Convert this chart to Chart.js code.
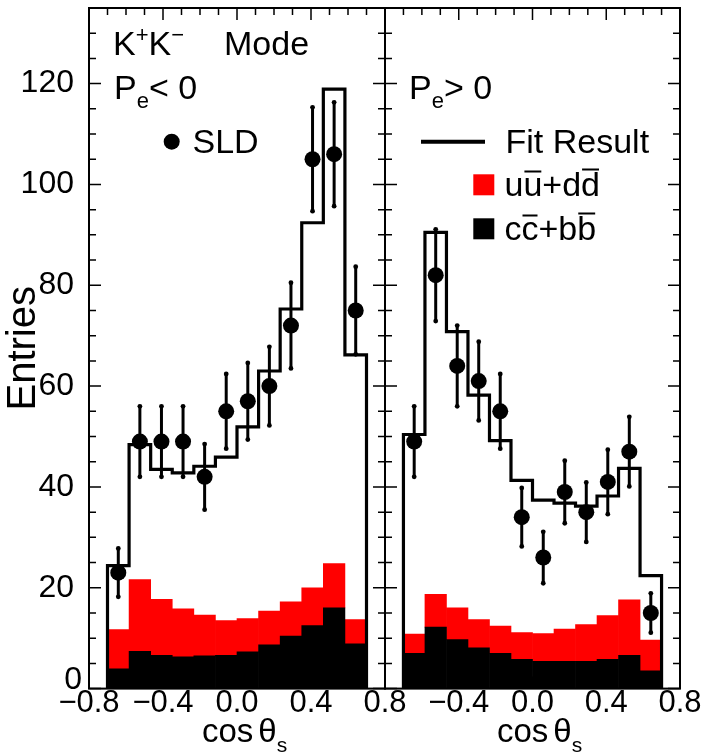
<!DOCTYPE html>
<html lang="en">
<head>
<meta charset="UTF-8">
<title>K+K- Mode</title>
<script src="https://cdn.jsdelivr.net/npm/chart.js"></script>
<style>
  body { margin: 0; background: #fff; }
  .wrap { position: relative; width: 703px; height: 754px; overflow: hidden; }
  canvas { position: absolute; top: 0; }
  #left { left: 0; }
  #right { left: 355px; }
</style>
</head>
<body>
<div class="wrap">
  <canvas id="left" width="430" height="754" style="width:430px;height:754px"></canvas>
  <canvas id="right" width="348" height="754" style="width:348px;height:754px"></canvas>
</div>
<script>
// bins in cos(theta_s), 12 bins from -0.7 to 0.7
const binEdges = [-0.7, -0.58333, -0.46667, -0.35, -0.23333, -0.11667, 0, 0.11667, 0.23333, 0.35, 0.46667, 0.58333, 0.7];
const xTicks = [-0.8, -0.4, 0, 0.4, 0.8];
const yTicks = [0, 20, 40, 60, 80, 100, 120];

// P_e < 0
const sldNeg    = [23, 49, 49, 49, 42, 55, 57, 60, 72, 105, 106, 75];
const sldNegErr = [4.8, 7, 7, 7, 6.5, 7.4, 7.6, 7.8, 8.5, 10.3, 10.3, 8.7];
const fitNeg    = [24.4, 48.4, 43.5, 42.8, 44.1, 45.9, 51.9, 63, 75.3, 92.4, 118.9, 66.2];
const uuddNeg   = [7.8, 14.2, 11.1, 9.5, 8.1, 6.9, 6.6, 6.7, 6.8, 7.5, 8.8, 4.8];
const ccbbNeg   = [3.9, 7.4, 6.6, 6.3, 6.5, 6.6, 7.3, 8.7, 10.4, 12.5, 16, 8.9];

// P_e > 0
const sldPos    = [49, 82, 64, 61, 55, 34, 26, 39, 35, 41, 47, 15];
const sldPosErr = [7, 9.1, 8, 7.8, 7.4, 5.8, 5.1, 6.2, 5.9, 6.4, 6.9, 3.9];
const fitPos    = [50.4, 90.5, 70.8, 58.2, 49.2, 41.3, 37.4, 36.8, 36.2, 38.2, 43.7, 22.4];
const uuddPos   = [3.8, 6.5, 6.3, 5.6, 5.4, 5.3, 5.5, 6.4, 7.3, 8.7, 11, 6.1];
const ccbbPos   = [7, 12.2, 9.7, 8.1, 7, 5.8, 5.4, 5.4, 5.4, 5.8, 6.6, 3.5];

const FONT = '"Liberation Sans", Arial, Helvetica, sans-serif';
const Y_MAX = 135;

const centers = binEdges.slice(0, -1).map((e, i) => (e + binEdges[i + 1]) / 2);
const pts = vals => vals.map((v, i) => ({ x: centers[i], y: v }));
function stepPts(vals) {
  const out = [{ x: binEdges[0], y: 0 }];
  vals.forEach((v, i) => out.push({ x: binEdges[i], y: v }));
  out.push({ x: binEdges[binEdges.length - 1], y: 0 });
  return out;
}
const fmt = v => (v < -1e-9 ? '\u2212' : '') + Math.abs(v).toFixed(1);

// text with sub/superscripts and overlines, drawn piece by piece
function rich(ctx, x, y, parts) {
  parts.forEach(p => {
    const size = p.size || 34;
    ctx.font = size + 'px ' + FONT;
    const yy = y + (p.dy || 0);
    ctx.fillText(p.t, x, yy);
    const w = ctx.measureText(p.t).width;
    if (p.bar) {
      ctx.fillRect(x + 1, y - p.bar, w - 2, 2);
    }
    x += w + (p.gap || 0);
  });
}

function drawAxes(chart, bottomOnly) {
  const { ctx, chartArea: a, scales: { x, y } } = chart;
  ctx.save();
  ctx.strokeStyle = '#000';
  ctx.lineWidth = 1.5;
  ctx.beginPath();
  for (let k = 0; k <= 16; k++) {
    const px = x.getPixelForValue(-0.8 + k * 0.1);
    const len = k % 4 === 0 ? 12 : 7;
    if (bottomOnly) {
      ctx.moveTo(px, a.bottom); ctx.lineTo(px, a.bottom - len);
    } else {
      ctx.moveTo(px, a.top); ctx.lineTo(px, a.top + len);
    }
  }
  if (!bottomOnly) {
    for (let v = 0; v <= Y_MAX; v += 5) {
      const py = y.getPixelForValue(v);
      const len = v % 20 === 0 ? 12 : 7;
      ctx.moveTo(a.left, py); ctx.lineTo(a.left + len, py);
      ctx.moveTo(a.right, py); ctx.lineTo(a.right - len, py);
    }
  }
  ctx.stroke();
  if (!bottomOnly) {
    ctx.lineWidth = 2;
    ctx.strokeRect(a.left, a.top, a.right - a.left, a.bottom - a.top);
  }
  ctx.restore();
}

const histPlugin = {
  id: 'hist',
  beforeDatasetsDraw(chart) {
    drawAxes(chart, true);
  },
  afterDatasetsDraw(chart, args, opts) {
    const { ctx, chartArea: a, scales: { x, y } } = chart;
    // error bars on the SLD points
    ctx.save();
    ctx.strokeStyle = '#000';
    ctx.fillStyle = '#000';
    ctx.lineWidth = 3;
    opts.vals.forEach((v, i) => {
      const px = x.getPixelForValue(centers[i]);
      const y1 = y.getPixelForValue(v + opts.errs[i]);
      const y2 = y.getPixelForValue(v - opts.errs[i]);
      ctx.beginPath();
      ctx.moveTo(px, y1); ctx.lineTo(px, y2);
      ctx.stroke();
      [y1, y2].forEach(py => {
        ctx.beginPath(); ctx.arc(px, py, 2.4, 0, Math.PI * 2); ctx.fill();
      });
    });
    ctx.restore();
    drawAxes(chart, false);

    // labels, translated to page coordinates
    ctx.save();
    ctx.translate(-opts.dx, 0);
    ctx.fillStyle = '#000';
    ctx.strokeStyle = '#000';
    ctx.textBaseline = 'alphabetic';
    ctx.textAlign = 'left';
    opts.draw(ctx, chart);
    // x axis title: cos theta_s
    rich(ctx, opts.titleX, 742, [
      { t: 'cos', size: 33, gap: 5 }, { t: '\u03b8', size: 33 }, { t: 's', size: 21, dy: 10 }
    ]);
    ctx.restore();
  }
};

function makeChart(id, sld, err, fit, uudd, ccbb, side) {
  const left = side === 'left';
  return new Chart(document.getElementById(id), {
    type: 'bar',
    data: {
      datasets: [
        { type: 'bar', data: pts(ccbb), backgroundColor: '#000000', stack: 'bg', order: 3,
          barPercentage: 1, categoryPercentage: 1, borderWidth: 0 },
        { type: 'bar', data: pts(uudd), backgroundColor: '#ff0000', stack: 'bg', order: 3,
          barPercentage: 1, categoryPercentage: 1, borderWidth: 0 },
        { type: 'line', data: stepPts(fit), borderColor: '#000', borderWidth: 3.2, stepped: true,
          pointRadius: 0, fill: false, order: 2 },
        { type: 'scatter', data: pts(sld), backgroundColor: '#000', borderWidth: 0,
          pointRadius: 8, order: 1 }
      ]
    },
    options: {
      responsive: false,
      animation: false,
      events: [],
      layout: { padding: left ? { top: 5, right: 45, left: 0, bottom: 0 } : { top: 5, right: 23, left: 30, bottom: 0 } },
      plugins: {
        legend: { display: false },
        tooltip: { enabled: false },
        hist: {
          vals: sld, errs: err, dx: left ? 0 : 355,
          titleX: left ? 202 : 497,
          draw: left ? drawLeftText : drawRightText
        }
      },
      scales: {
        x: {
          type: 'linear', min: -0.8, max: 0.8, offset: false,
          grid: { display: false }, border: { display: false },
          afterBuildTicks: s => { s.ticks = xTicks.map(v => ({ value: v })); },
          afterFit: s => { s.height = 65.4; s.paddingLeft = 0; s.paddingRight = 0; },
          ticks: {
            autoSkip: false, maxRotation: 0, padding: -12, color: '#000',
            font: { family: FONT, size: 31 },
            callback: v => (!left && Math.abs(v + 0.8) < 1e-9) ? '' : fmt(v)
          }
        },
        y: {
          type: 'linear', min: 0, max: Y_MAX, display: left,
          grid: { display: false }, border: { display: false },
          afterBuildTicks: s => { s.ticks = yTicks.map(v => ({ value: v })); },
          afterFit: s => { s.width = left ? 89 : 0; s.paddingTop = 0; s.paddingBottom = 0; },
          // the zero label sits above the axis corner, drawn by the plugin
          ticks: { padding: 7, color: '#000', font: { family: FONT, size: 32 },
                   callback: v => v === 0 ? '' : String(v) },
          title: { display: true, text: 'Entries', color: '#000', padding: 0,
                   font: { family: FONT, size: 40 } }
        }
      }
    },
    plugins: [histPlugin]
  });
}

function drawLeftText(ctx, chart) {
  const a = chart.chartArea;
  ctx.save();
  ctx.font = '32px ' + FONT;
  ctx.textAlign = 'right';
  ctx.fillText('0', a.left - 7, a.bottom);
  ctx.restore();
  rich(ctx, 113, 55, [
    { t: 'K' }, { t: '+', size: 22, dy: -13 }, { t: 'K' }, { t: '\u2212', size: 22, dy: -13 }
  ]);
  rich(ctx, 224, 55, [{ t: 'Mode' }]);
  rich(ctx, 114, 99, [{ t: 'P' }, { t: 'e', size: 22, dy: 9 }, { t: '< 0' }]);
  ctx.beginPath(); ctx.arc(171.7, 141.7, 8, 0, Math.PI * 2); ctx.fill();
  rich(ctx, 192.5, 153, [{ t: 'SLD' }]);
}

function drawRightText(ctx) {
  rich(ctx, 409, 99, [{ t: 'P' }, { t: 'e', size: 22, dy: 9 }, { t: '> 0' }]);
  ctx.save();
  ctx.lineWidth = 4;
  ctx.beginPath(); ctx.moveTo(421, 141.7); ctx.lineTo(485, 141.7); ctx.stroke();
  ctx.restore();
  rich(ctx, 505.5, 153, [{ t: 'Fit Result' }]);
  ctx.fillStyle = '#ff0000';
  ctx.fillRect(473.3, 174.3, 21, 21);
  ctx.fillStyle = '#000';
  ctx.fillRect(473.3, 218.3, 21, 21);
  rich(ctx, 504.5, 195.5, [
    { t: 'u' }, { t: 'u', bar: 25 }, { t: '+' }, { t: 'd' }, { t: 'd', bar: 27 }
  ]);
  rich(ctx, 504.5, 239.5, [
    { t: 'c' }, { t: 'c', bar: 25 }, { t: '+' }, { t: 'b' }, { t: 'b', bar: 27 }
  ]);
}

makeChart('left', sldNeg, sldNegErr, fitNeg, uuddNeg, ccbbNeg, 'left');
makeChart('right', sldPos, sldPosErr, fitPos, uuddPos, ccbbPos, 'right');
</script>
</body>
</html>
